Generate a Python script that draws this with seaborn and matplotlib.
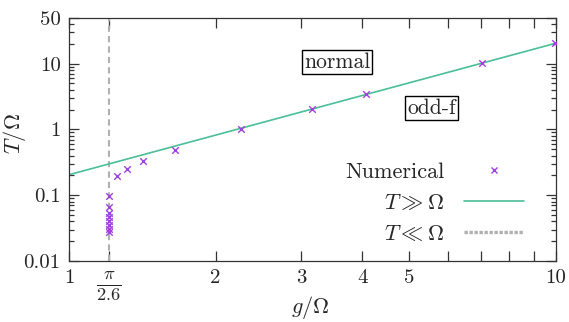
import numpy as np
import pandas as pd
import matplotlib
matplotlib.use("Agg")
import matplotlib.pyplot as plt
from matplotlib.ticker import FixedLocator, FixedFormatter, LogLocator, NullFormatter
from matplotlib.lines import Line2D
import seaborn as sns

# ---- data ----
g_num = [1.2083, 1.2083, 1.2083, 1.2083, 1.2083, 1.2083, 1.2083, 1.2083,
         1.256, 1.313, 1.421, 1.651, 2.253, 3.15, 4.07, 7.04, 9.95]
T_num = [0.098, 0.066, 0.053, 0.046, 0.040, 0.035, 0.031, 0.028,
         0.199, 0.251, 0.332, 0.493, 1.00, 2.03, 3.43, 10.1, 20.4]
g_line = [1.0, 10.0]
T_line = [0.205, 20.5]
g_crit = np.pi / 2.6
x_ticks = [1, g_crit, 2, 3, 4, 5, 6, 7, 8, 9, 10]
x_labels = ["1", r"$\frac{\pi}{2.6}$", "2", "3", "4", "5", "", "", "", "", "10"]
y_ticks = [0.01, 0.1, 1, 10, 50]
y_labels = ["0.01", "0.1", "1", "10", "50"]

sns.set_style("ticks")
plt.rcParams["font.family"] = ["cmr10", "DejaVu Serif"]
plt.rcParams["mathtext.fontset"] = "cm"
plt.rcParams["axes.formatter.use_mathtext"] = True

fig = plt.figure(figsize=(5.69, 3.22), dpi=100)
ax = fig.add_axes([69/569, 1-261/322, 487/569, (261-17.7)/322])

purple = "#a040e0"
green = "#4bbf95"
grey = "#b0b0b0"

df_num = pd.DataFrame({"g": g_num, "T": T_num})
df_line = pd.DataFrame({"g": g_line, "T": T_line})

sns.lineplot(data=df_line, x="g", y="T", ax=ax, color=green, lw=1.2,
             label=r"$T \gg \Omega$", zorder=2)
ax.axvline(g_crit, color=grey, lw=1.5, ls=(0, (3, 2)), zorder=1)
sns.scatterplot(data=df_num, x="g", y="T", ax=ax, marker="x", color=purple,
                s=22, linewidth=1.0, label="Numerical", zorder=3)

ax.set_xscale("log")
ax.set_yscale("log")
ax.set_xlim(1, 10)
ax.set_ylim(0.01, 50)

ax.xaxis.set_major_locator(FixedLocator(x_ticks))
ax.xaxis.set_major_formatter(FixedFormatter(x_labels))
ax.xaxis.set_minor_locator(FixedLocator([]))
ax.yaxis.set_major_locator(FixedLocator(y_ticks))
ax.yaxis.set_major_formatter(FixedFormatter(y_labels))
ax.yaxis.set_minor_locator(LogLocator(base=10, subs=np.arange(2, 10)))
ax.yaxis.set_minor_formatter(NullFormatter())

ax.tick_params(which="both", direction="in", top=True, right=True,
               color="#333333", width=0.9)
ax.tick_params(which="major", length=7, labelsize=15, pad=6)
ax.tick_params(which="minor", length=3.5)
for s in ax.spines.values():
    s.set_color("#333333")
    s.set_linewidth(0.9)

fig.canvas.draw()
ax.get_xticklabels()[1].set_fontsize(19)

ax.set_xlabel(r"$g/\Omega$", fontsize=16)
ax.set_ylabel(r"$T/\Omega$", fontsize=16)
ax.xaxis.set_label_coords(0.495, -0.135)
ax.yaxis.set_label_coords(-0.085, 0.526)

ax.text(3.55, 10.6, "normal", fontsize=15.5, ha="center", va="center",
        bbox=dict(boxstyle="square,pad=0.1", fc="white", ec="black", lw=1))
ax.text(5.56, 2.12, "odd-f", fontsize=15.5, ha="center", va="center",
        bbox=dict(boxstyle="square,pad=0.1", fc="white", ec="black", lw=1))

handles = [
    Line2D([], [], ls="none", marker="x", color=purple, ms=4.5, mew=1.0),
    Line2D([], [], color=green, lw=1.2),
    Line2D([], [], color=grey, lw=2.4, ls=(0, (1, 0.5))),
]
labels = ["Numerical", r"$T \gg \Omega$", r"$T \ll \Omega$"]
ax.legend(handles, labels, loc="upper right", bbox_to_anchor=(0.935, 0.405),
          frameon=False, markerfirst=False, fontsize=16, handlelength=2.7,
          borderpad=0, borderaxespad=0, labelspacing=0.5, handletextpad=0.9)

fig.savefig("out.png", dpi=100)
